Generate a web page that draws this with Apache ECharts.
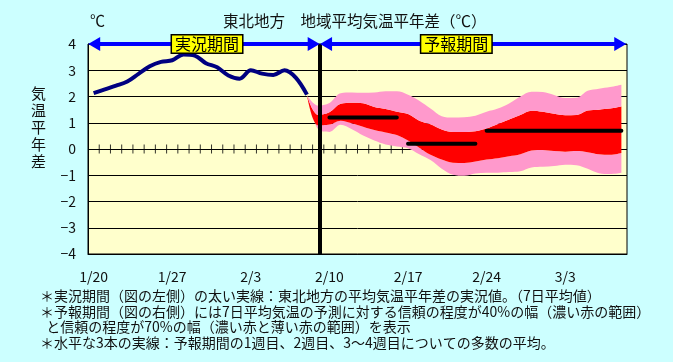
<!DOCTYPE html>
<html>
<head>
<meta charset="utf-8">
<script src="https://cdn.jsdelivr.net/npm/echarts@6/dist/echarts.min.js"></script>
<style>
html,body{margin:0;padding:0;background:#ccffff;}
#c{width:673px;height:362px;}
</style>
</head>
<body>
<div id="c"></div>
<script>
// ---- data ----
const dates = ['1/20','1/21','1/22','1/23','1/24','1/25','1/26','1/27','1/28','1/29','1/30','1/31',
  '2/1','2/2','2/3','2/4','2/5','2/6','2/7','2/8','2/9','2/10','2/11','2/12','2/13','2/14','2/15','2/16',
  '2/17','2/18','2/19','2/20','2/21','2/22','2/23','2/24','2/25','2/26','2/27','2/28',
  '3/1','3/2','3/3','3/4','3/5','3/6','3/7','3/8'];
const observed = [2.13, 2.27, 2.41, 2.57, 2.86, 3.15, 3.32, 3.38, 3.6, 3.56, 3.27, 3.11, 2.8, 2.68, 3.0, 2.87, 2.82, 3.0, 2.72, 2.07];
const forecastStartIndex = 19;
const pinkUpper = [2.05, 1.65, 1.75, 2.12, 2.15, 2.14, 2.15, 2.2, 2.2, 2.07, 1.84, 1.54, 1.25, 1.2, 1.21, 1.27, 1.42, 1.54, 1.73, 2.0, 2.18, 2.17, 2.06, 1.94, 1.95, 2.22, 2.3, 2.36, 2.45];
const redUpper  = [2.05, 1.3, 1.4, 1.72, 1.76, 1.74, 1.6, 1.52, 1.42, 1.33, 1.08, 0.94, 0.74, 0.65, 0.65, 0.68, 0.78, 0.95, 1.12, 1.3, 1.46, 1.42, 1.34, 1.29, 1.3, 1.47, 1.5, 1.54, 1.62];
const redLower  = [2.05, 0.9, 0.93, 1.08, 0.98, 0.85, 0.72, 0.63, 0.53, 0.32, 0.05, -0.22, -0.4, -0.52, -0.53, -0.48, -0.4, -0.35, -0.28, -0.2, -0.06, -0.04, -0.08, -0.1, -0.08, -0.12, -0.2, -0.22, -0.15];
const pinkLower = [2.05, 0.75, 0.65, 0.92, 0.75, 0.51, 0.32, 0.17, 0.1, 0.03, -0.2, -0.42, -0.75, -0.98, -1.02, -0.93, -0.9, -0.9, -0.88, -0.85, -0.7, -0.68, -0.65, -0.6, -0.62, -0.75, -0.92, -0.95, -0.9];
const weekMeans = [ {from: 21, to: 27, value: 1.2}, {from: 28, to: 34, value: 0.2}, {from: 35, to: 47, value: 0.7} ];
const zeroLineTicks = [1,2,3,4,5,6,7,8,9,10,11,12,13,14,15,16,17,18,19,20,21,22,23,24,25,26,27,28];
const todayPos = 20.65;

// ---- build ----
const N = dates.length;
function pad(arr, start){ const out = new Array(N).fill(null); arr.forEach((v,i)=>{out[start+i]=v;}); return out; }
const obsSeries = pad(observed, 0);
const base = pad(pinkLower, forecastStartIndex);
const d1 = pad(redLower.map((v,i)=>+(v - pinkLower[i]).toFixed(3)), forecastStartIndex);
const d2 = pad(redUpper.map((v,i)=>+(v - redLower[i]).toFixed(3)), forecastStartIndex);
const d3 = pad(pinkUpper.map((v,i)=>+(v - redUpper[i]).toFixed(3)), forecastStartIndex);
const meanSeries = weekMeans.map(w => { const a = new Array(N).fill(null); for (let i=w.from;i<=w.to;i++) a[i]=w.value; return a; });

const FONT = "'Noto Sans CJK JP', sans-serif";
const TXT = '#111';
const SMOOTH = 0.35;
function bandSeries(data, color){
  return { type:'line', data, stack:'band', stackStrategy:'all', smooth:SMOOTH, symbol:'none',
    lineStyle:{width:0, opacity:0}, areaStyle: color ? {color, opacity:1} : undefined,
    silent:true, z:2, connectNulls:false };
}

const chart = echarts.init(document.getElementById('c'), null, {renderer:'canvas'});
chart.setOption({
  backgroundColor:'#ccffff',
  animation:false,
  textStyle:{fontFamily:FONT},
  title:{ text:'東北地方　地域平均気温平年差（℃）', left:218, top:8,
    textStyle:{fontSize:15.5, fontWeight:'normal', color:TXT, fontFamily:FONT} },
  grid:{ left:88, top:44, right:46, bottom:108, show:true, backgroundColor:'#ffffcc', borderColor:'#000', borderWidth:1 },
  xAxis:[
    { type:'category', data:dates, boundaryGap:true,
      axisLine:{onZero:false, lineStyle:{color:'#000', width:1}},
      axisTick:{inside:true, length:5, interval:6, lineStyle:{color:'#000'}},
      axisLabel:{interval:6, color:TXT, fontSize:14, margin:16, fontFamily:FONT},
      splitLine:{show:false} },
    { type:'value', min:0, max:N, show:false }
  ],
  yAxis:{ type:'value', min:-4, max:4, interval:1,
    axisLine:{show:true, lineStyle:{color:'#000'}}, axisTick:{show:false},
    axisLabel:{color:TXT, fontSize:14, margin:12, fontFamily:FONT,
      formatter: v => v < 0 ? '\u2212' + (-v) : String(v)},
    splitLine:{show:true, lineStyle:{color:'#000', width:1}} },
  graphic:[
    { type:'text', left:90, top:13, style:{ text:'℃', font:'15px '+FONT, fill:TXT } },
    { type:'text', left:31, top:85, style:{ text:'気\n温\n平\n年\n差', font:'15px '+FONT, fill:TXT, lineHeight:17 } },
    { type:'text', left:40, top:288, style:{ font:'14px '+FONT, fill:TXT, lineHeight:15.5,
      text:'＊実況期間（図の左側）の太い実線：東北地方の平均気温平年差の実況値。（7日平均値）\n' +
           '＊予報期間（図の右側）には7日平均気温の予測に対する信頼の程度が40%の幅（濃い赤の範囲）\n' +
           '  と信頼の程度が70%の幅（濃い赤と薄い赤の範囲）を表示\n' +
           '＊水平な3本の実線：予報期間の1週目、2週目、3～4週目についての多数の平均。' } }
  ],
  series:[
    { type:'scatter', xAxisIndex:1, data: zeroLineTicks.map(d=>[d,0]), symbol:'rect', symbolSize:[1,9],
      itemStyle:{color:'#000'}, silent:true, z:1, clip:false },
    bandSeries(base, null),
    bandSeries(d1, '#ff99cc'),
    bandSeries(d2, '#ff0000'),
    bandSeries(d3, '#ff99cc'),
    { type:'line', data:obsSeries, smooth:SMOOTH, symbol:'none', lineStyle:{color:'#000080', width:4}, z:3 },
    ...meanSeries.map(m => ({ type:'line', data:m, symbol:'none', lineStyle:{color:'#000', width:4, cap:'round'}, z:4 })),
    { type:'scatter', xAxisIndex:1, data:[], silent:true, z:6, clip:false,
      markLine:{ silent:true, animation:false, symbol:'none', label:{show:false},
        lineStyle:{color:'#000', width:4, type:'solid'},
        data:[ {xAxis: todayPos} ] } },
    { type:'scatter', xAxisIndex:1, data:[[0,4]], symbolSize:0, silent:true, z:7, clip:false,
      markLine:{ silent:true, animation:false, symbol:['triangle','triangle'], symbolSize:[14,12], label:{show:false},
        lineStyle:{color:'#0000ff', width:4, type:'solid', opacity:1},
        itemStyle:{color:'#0000ff'},
        data:[ [{coord:[0.55,4]},{coord:[todayPos-0.55,4]}], [{coord:[todayPos+0.55,4]},{coord:[N-0.6,4]}] ] },
      markPoint:{ silent:true, animation:false, symbol:'rect', symbolSize:0,
        label:{show:true, position:'inside', color:'#000', fontSize:16, fontFamily:FONT,
          backgroundColor:'#ffff00', borderColor:'#000', borderWidth:1.5, padding:[1,3,0,3]},
        data:[ {coord:[10.6,4], value:'実況期間', label:{formatter:'実況期間'}},
               {coord:[32.8,4], value:'予報期間', label:{formatter:'予報期間'}} ] } }
  ]
});
</script>
</body>
</html>
